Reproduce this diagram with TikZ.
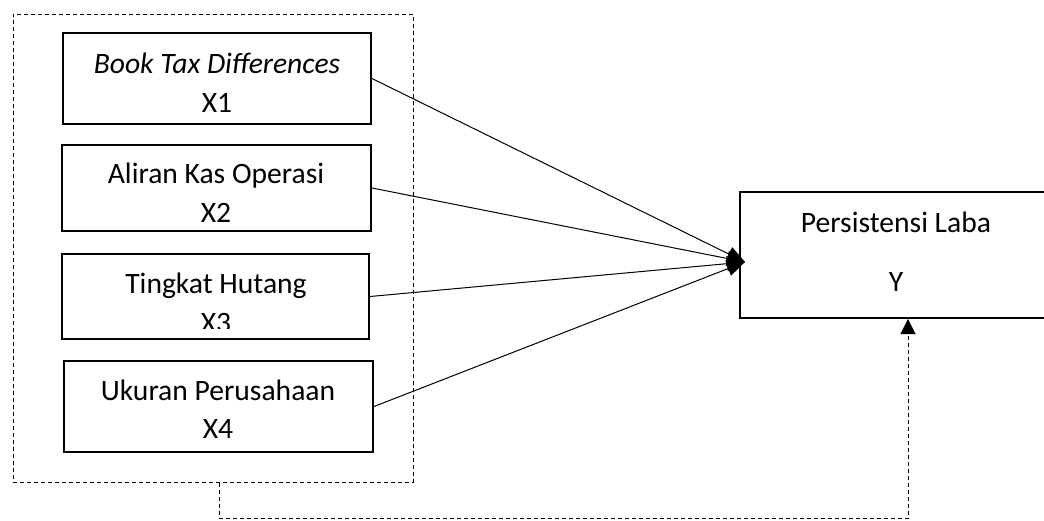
\documentclass[tikz,border=0pt]{standalone}
\usepackage{fontspec}
\setmainfont{Carlito}
\usetikzlibrary{arrows.meta,calc}
\tikzset{x=0.5pt,y=-0.5pt,
        varbox/.style = {draw, line width=1pt, inner sep=0pt},
        grpbox/.style = {draw, line width=0.5pt, dash pattern=on 2pt off 1.5pt, inner sep=0pt},
        boxtext/.style = {align=center, anchor=base, inner sep=0pt,
                          font=\fontsize{14.8}{19.5}\selectfont},
        link/.style = {line width=0.5pt, -{Triangle[length=9pt,width=7.5pt]}},
        dlink/.style = {line width=0.5pt, dash pattern=on 2pt off 1.5pt,
                        -{Triangle[length=7.5pt,width=7.5pt]}},
        }
\begin{document}
\begin{tikzpicture}
    \clip (0,0) rectangle (1044,520);

    \node[grpbox, minimum width=200pt, minimum height=234pt] (grp) at (213,248) {};

    \node[varbox, minimum width=154pt, minimum height=45.5pt] (x1) at (217,78.5) {};
    \node[varbox, minimum width=154.5pt, minimum height=43pt] (x2) at (216.5,188) {};
    \node[varbox, minimum width=153.5pt, minimum height=42.5pt] (x3) at (215.5,296.5) {};
    \node[varbox, minimum width=154.5pt, minimum height=45.5pt] (x4) at (218.5,406.5) {};
    \node[varbox, minimum width=156pt, minimum height=63pt] (y) at (896,255) {};

    \node[boxtext] (x1t) at (217,112) {\textit{Book Tax Differences}\\X1};
    \node[boxtext] (x2t) at (216,222) {Aliran Kas Operasi\\X2};
    \begin{scope}
        \clip (62,254) rectangle (369,328);
        \node[boxtext] (x3t) at (216,332) {Tingkat Hutang\\X3};
    \end{scope}
    \node[boxtext, font=\fontsize{14.8}{19}\selectfont] (x4t) at (218,438) {Ukuran Perusahaan\\X4};
    \node[boxtext, font=\fontsize{14.8}{29.5}\selectfont] (yt) at (896,291) {Persistensi Laba\\Y};

    \coordinate (meet) at (745,262);
    \draw[link] (x1.east) -- (meet);
    \draw[link] (x2.east) -- (meet);
    \draw[link] (x3.east) -- (meet);
    \draw[link] (x4.east) -- (meet);

    \coordinate (bend1) at (219,518);
    \coordinate (bend2) at (908,518);
    \draw[dlink] (grp.south -| bend1) -- (bend1) -- (bend2) -- (y.south -| bend2);
\end{tikzpicture}
\end{document}
